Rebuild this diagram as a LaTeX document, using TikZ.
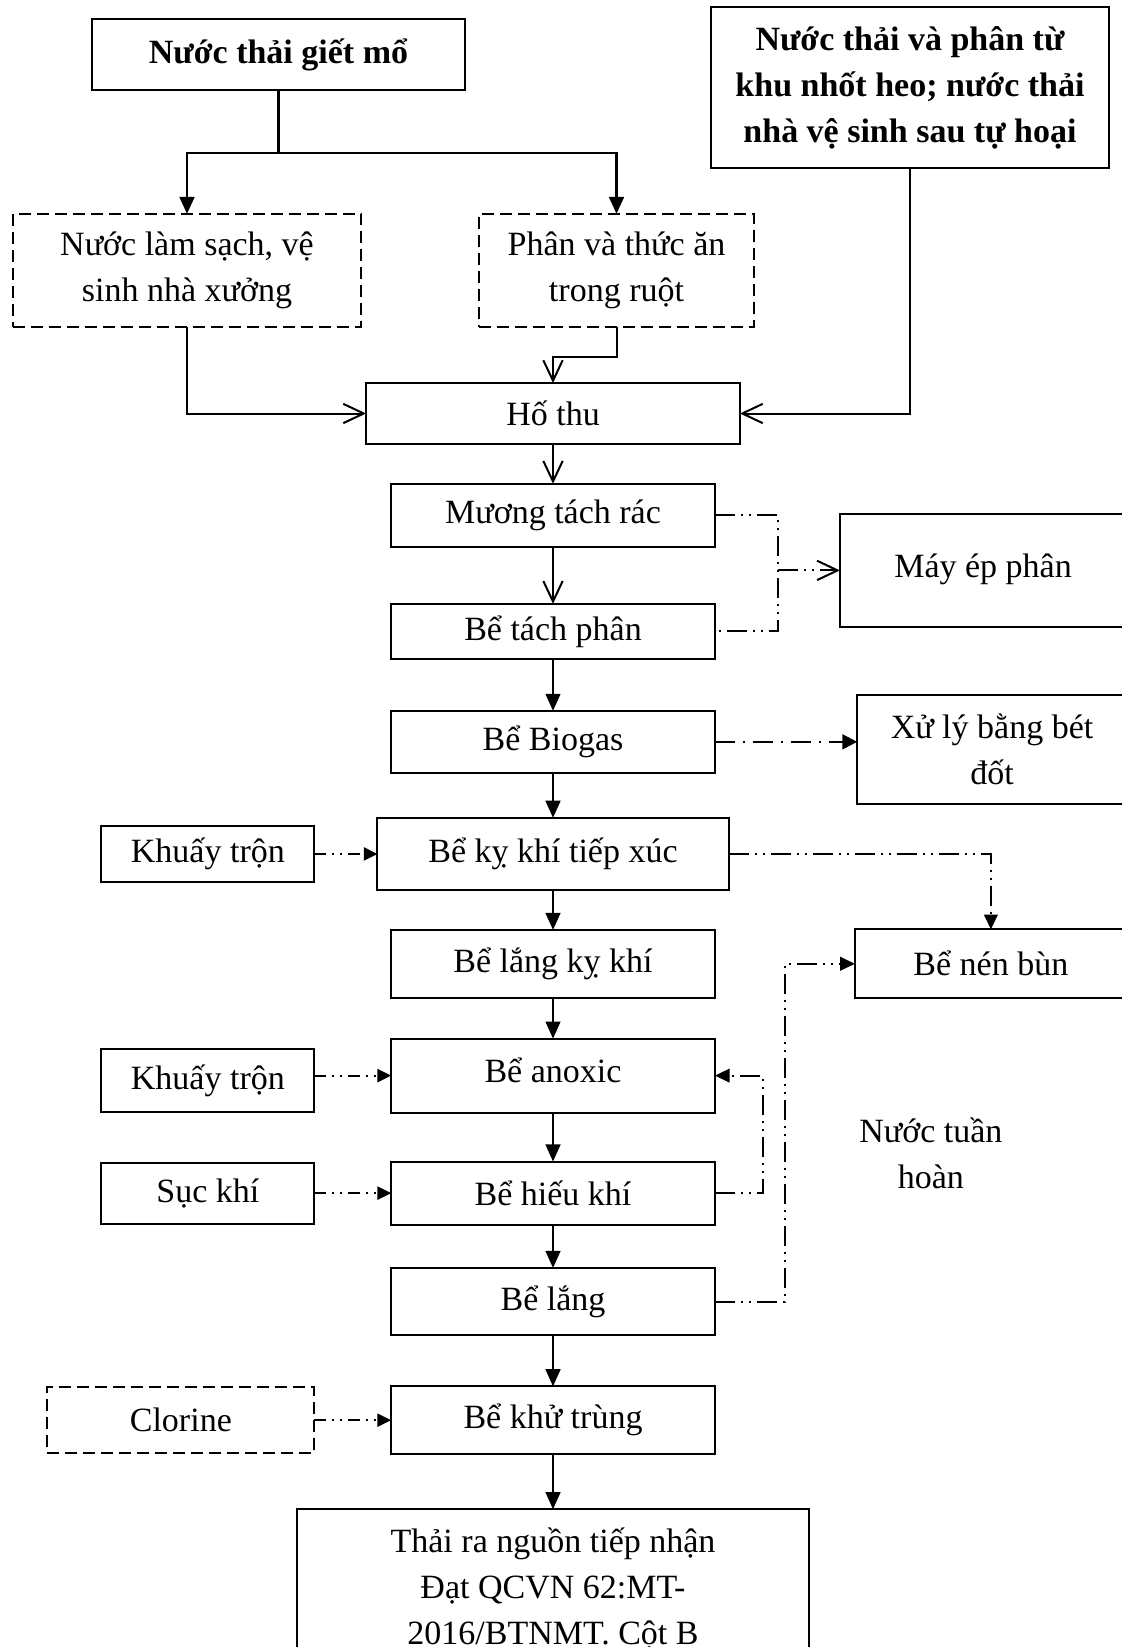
\documentclass[tikz,border=0pt]{standalone}
\usepackage{fontspec}
\setmainfont{Liberation Serif}
\usepackage{tikz}
\usetikzlibrary{arrows.meta,positioning,calc}
\newcommand{\boxfont}{\fontsize{17}{23}\selectfont}
\tikzset{
  stage/.style={rectangle, draw, line width=1pt, align=center, font=\boxfont,
                inner sep=3pt, outer sep=0pt, minimum width=56.9mm, minimum height=11mm},
  src/.style={stage, font=\boxfont\bfseries},
  opt/.style={stage, dash pattern=on 6pt off 3pt},
  lbox/.style={stage, minimum width=37.4mm},
  rbox/.style={stage, minimum width=47.8mm},
  txt/.style={align=center, font=\boxfont, inner sep=0pt},
  fl/.style={-{Triangle[length=3mm, width=2.6mm]}, line width=1pt},
  op/.style={-{Straight Barb[length=3.6mm, width=3.4mm]}, line width=1pt},
  feed/.style={-{Triangle[length=2.4mm, width=2.3mm]}, line width=1pt,
               dash pattern=on 6pt off 3pt on 1pt off 3pt on 1pt off 3pt},
  rec/.style={line width=1pt, dash pattern=on 10pt off 3pt on 1pt off 3pt on 1pt off 3pt},
  recf/.style={rec, -{Triangle[length=2.6mm, width=2.4mm]}},
  gas/.style={-{Triangle[length=2.6mm, width=2.6mm]}, line width=1.2pt,
              dash pattern=on 10pt off 4pt on 1pt off 4pt},
}
\begin{document}
\begin{tikzpicture}[x=0.5pt, y=-0.5pt]
\clip (0,0) rectangle (1122,1647);
% sources
\node[src, minimum width=65.5mm, minimum height=12.5mm] (gm) at (278.5,54.5) {Nước thải giết mổ};
\node[src, minimum width=69.9mm, minimum height=28.3mm] (heo) at (910,87.5)
  {Nước thải và phân từ\\khu nhốt heo; nước thải\\nhà vệ sinh sau tự hoại};
\node[opt, minimum width=61.2mm, minimum height=19.9mm] (vs) at (187,270.5)
  {Nước làm sạch, vệ\\sinh nhà xưởng};
\node[opt, minimum width=48.3mm, minimum height=19.9mm] (ruot) at (616.5,270.5)
  {Phân và thức ăn\\trong ruột};
% main line
\node[stage, minimum width=65.7mm, minimum height=10.7mm] (ht) at (553,413.5) {Hố thu};
\node[stage, below=7mm of ht, minimum height=11.1mm] (mtr) {Mương tách rác};
\node[stage, below=10mm of mtr, minimum height=9.7mm] (btp) {Bể tách phân};
\node[stage, below=9.1mm of btp, minimum height=10.9mm] (bio) {Bể Biogas};
\node[stage, below=7.9mm of bio, minimum width=61.7mm, minimum height=12.7mm] (kkt) {Bể kỵ khí tiếp xúc};
\node[stage, below=7mm of kkt, minimum height=11.9mm] (lkk) {Bể lắng kỵ khí};
\node[stage, below=7.2mm of lkk, minimum height=13mm] (anx) {\raisebox{2mm}{Bể anoxic}};
\node[stage, below=8.6mm of anx, minimum height=11.1mm] (hk) {Bể hiếu khí};
\node[stage, below=7.6mm of hk, minimum height=11.8mm] (bl) {Bể lắng};
\node[stage, below=9mm of bl, minimum height=11.9mm] (ktr) {Bể khử trùng};
\node[stage, below=9.7mm of ktr, minimum width=90mm, minimum height=28mm] (xa)
  {Thải ra nguồn tiếp nhận\\Đạt QCVN 62:MT-\\2016/BTNMT. Cột B};
% inputs on the left
\node[lbox, left=11.1mm of kkt, minimum height=9.8mm] (kh1) {Khuấy trộn};
\node[lbox, left=13.5mm of anx, yshift=-0.9mm, minimum height=11.1mm] (kh2) {Khuấy trộn};
\node[lbox, left=13.5mm of hk, minimum height=10.7mm] (sk) {Sục khí};
\node[opt, left=13.5mm of ktr, minimum width=46.9mm, minimum height=11.6mm] (clo) {Clorine};
% sludge side
\coordinate (j1) at ($(mtr.east)!0.5!(btp.east)+(63,-3)$);
\node[rbox, right=10.9mm of j1, minimum width=50.3mm, minimum height=20mm] (mep) {\raisebox{1.5mm}{Máy ép phân}};
\node[rbox, right=25mm of bio, yshift=-1.3mm, minimum width=47.4mm, minimum height=19.2mm] (xl) {Xử lý bằng bét\\đốt};
\node[rbox, right=24.6mm of lkk, minimum height=12.1mm] (nb) {Bể nén bùn};
\node[txt] (nth) at ($(nb.south)+(-60,155)$) {Nước tuần\\hoàn};
% connectors
\coordinate (split) at (278.5,153);
\draw[line width=1.4pt] (gm) -- (split);
\draw[fl, line width=1.4pt] (split) -| (vs.north);
\draw[fl, line width=1.4pt] (split) -| (ruot.north);
\draw[op] (vs.south) |- (ht.west);
\draw[op] (ruot.south) -- ++(0,30) -| (ht.north);
\draw[op] (heo.south) |- (ht.east);
\draw[op] (ht) -- (mtr);
\draw[op] (mtr) -- (btp);
\draw[rec] (mtr.east) -| (j1) |- (btp.east);
\draw[rec, op] (j1) -- (mep);
\draw[fl] (btp) -- (bio);
\draw[gas] (bio.east) -- (bio.east -| xl.west);
\draw[fl] (bio) -- (kkt);
\draw[feed] (kh1) -- (kkt);
\draw[recf] (kkt.east) -| (nb.north);
\draw[fl] (kkt) -- (lkk);
\draw[fl] (lkk) -- (anx);
\draw[feed] (anx.west -| kh2.east) -- (anx.west);
\draw[fl] (anx) -- (hk);
\draw[feed] (sk) -- (hk);
\draw[recf] (hk.east) -- ++(48,0) |- (anx.east);
\draw[fl] (hk) -- (bl);
\draw[recf] (bl.east) -- ++(70,0) |- (nb.west);
\draw[fl] (bl) -- (ktr);
\draw[feed] (clo) -- (ktr);
\draw[fl] (ktr) -- (xa);
\end{tikzpicture}
\end{document}
